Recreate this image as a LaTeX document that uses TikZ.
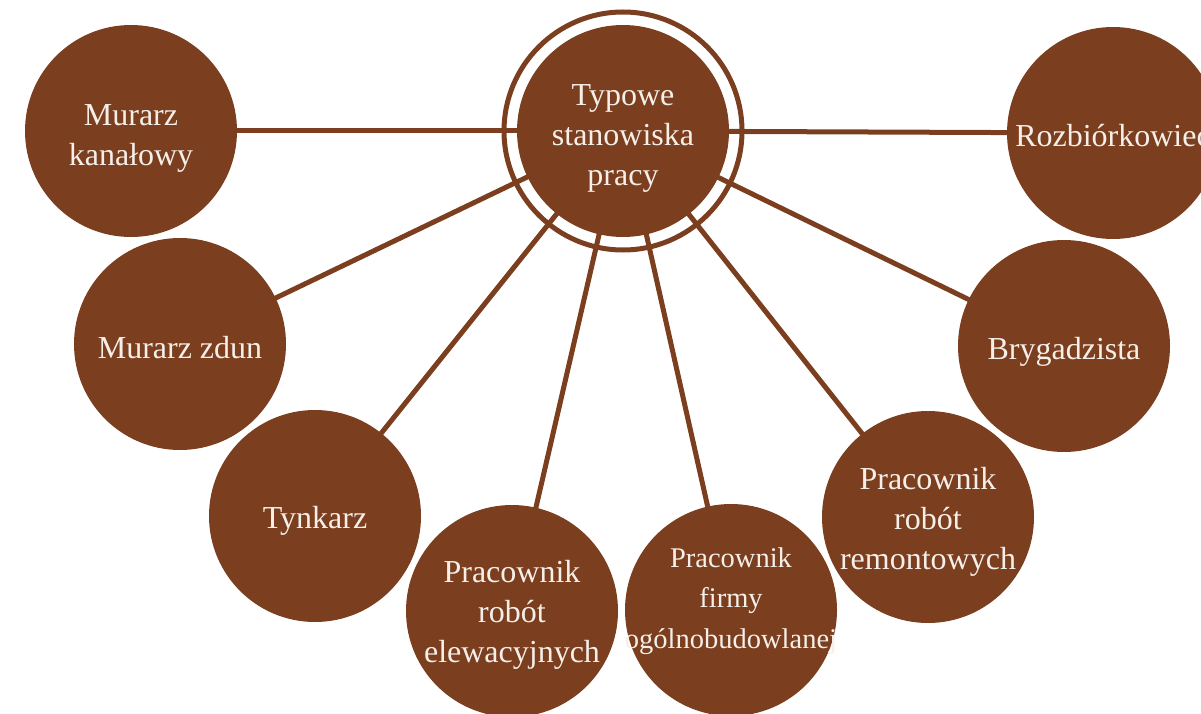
\documentclass[tikz,border=0pt]{standalone}
\usepackage{fontspec}
\setmainfont{Liberation Serif}
\definecolor{brownc}{RGB}{123,62,30}
\definecolor{textc}{RGB}{246,239,233}
\tikzset{
  bubble/.style={circle, fill=brownc, minimum size=212pt, inner sep=0pt},
  txt/.style={text=textc, align=center, inner sep=0pt, font=\fontsize{32}{40}\selectfont},
  txtsmall/.style={txt, font=\fontsize{28.5}{40.5}\selectfont},
  conn/.style={draw=brownc, line width=5pt},
  ring/.style={draw=brownc, line width=5pt, circle, minimum size=238pt, inner sep=0pt}
}
\begin{document}
\begin{tikzpicture}[x=1pt,y=-1pt]
\useasboundingbox (0,0) rectangle (1201,714);
% positions
\coordinate (c) at (623,131);
\coordinate (mk) at (131,131);
\coordinate (mz) at (180,344);
\coordinate (ty) at (315,516);
\coordinate (pe) at (512,611);
\coordinate (pf) at (731,610);
\coordinate (pr) at (928,517);
\coordinate (br) at (1064,346);
\coordinate (rz) at (1113,133);
% connectors
\foreach \t in {mk,mz,ty,pe,pf,pr,br,rz}
  \draw[conn] (c) -- (\t);
% outer circles
\foreach \t in {mk,mz,ty,pe,pf,pr,br,rz}
  \node[bubble] (b\t) at (\t) {};
% central
\node[ring] (ringc) at (c) {};
\node[bubble] (bc) at (c) {};
% texts
\node[txt] (tc) at ([yshift=-7pt]bc.center) {Typowe\\stanowiska\\pracy};
\node[txt] (tmk) at ([yshift=-7pt]bmk.center) {Murarz\\kanałowy};
\node[txt] (tmz) at ([yshift=-4pt]bmz.center) {Murarz zdun};
\node[txt] (tty) at ([yshift=-5pt]bty.center) {Tynkarz};
\node[txt] (tpe) at ([yshift=-4pt]bpe.center) {Pracownik\\robót\\elewacyjnych};
\node[txtsmall] (tpf) at ([yshift=9pt]bpf.center) {Pracownik\\firmy\\ogólnobudowlanej};
\node[txt] (tpr) at ([yshift=-5pt]bpr.center) {Pracownik\\robót\\remontowych};
\node[txt] (tbr) at ([yshift=-6pt]bbr.center) {Brygadzista};
\node[txt] (trz) at ([yshift=-3pt]brz.center) {Rozbiórkowiec};
\end{tikzpicture}
\end{document}
